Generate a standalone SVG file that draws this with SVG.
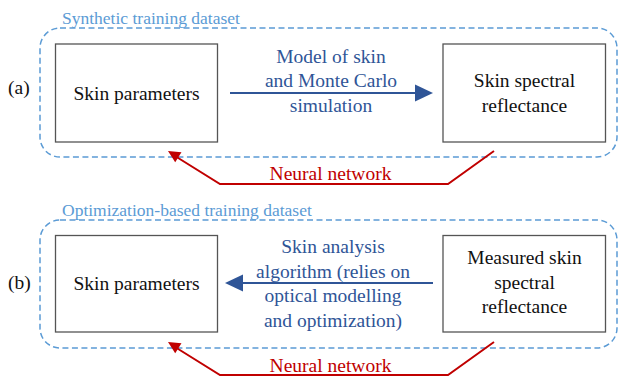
<svg xmlns="http://www.w3.org/2000/svg" width="619" height="376" viewBox="0 0 619 376" font-family="Liberation Serif, serif">
<defs>
<style>
.t{font-size:19.5px;fill:#111;text-anchor:middle}
.lbl{font-size:19.5px;fill:#111}
.ttl{font-size:17.5px;fill:#5b9bd5}
.bt{font-size:19.5px;fill:#2f5597;text-anchor:middle}
.rt{font-size:19.5px;fill:#c00000;text-anchor:middle}
.grp{fill:none;stroke:#5b9bd5;stroke-width:1.5;stroke-dasharray:6 3.5}
.box{fill:#fff;stroke:#555;stroke-width:1.3}
.blue{fill:none;stroke:#2f5597;stroke-width:2}
.red{fill:none;stroke:#c00000;stroke-width:2}
</style>
</defs>

<g id="group-a">
<rect class="grp" x="40" y="28" width="577" height="129" rx="20"/>
<text class="ttl" x="62" y="24">Synthetic training dataset</text>
<text class="lbl" x="8" y="94">(a)</text>
</g>
<g id="group-b">
<rect class="grp" x="40" y="220" width="577" height="128" rx="20"/>
<text class="ttl" x="62" y="216">Optimization-based training dataset</text>
<text class="lbl" x="8" y="289">(b)</text>
</g>

<g id="a-skin-params">
<rect class="box" x="55.5" y="44" width="162" height="98"/>
<text class="t" x="136.5" y="100">Skin parameters</text>
</g>
<g id="a-reflectance">
<rect class="box" x="443" y="44" width="162.5" height="98"/>
<text class="t" x="524.5" y="87">Skin spectral</text>
<text class="t" x="524.5" y="112">reflectance</text>
</g>
<g id="b-skin-params">
<rect class="box" x="55.5" y="235.5" width="162" height="96.5"/>
<text class="t" x="136.5" y="290">Skin parameters</text>
</g>
<g id="b-measured">
<rect class="box" x="443" y="235.5" width="162.5" height="96.5"/>
<text class="t" x="524.5" y="264">Measured skin</text>
<text class="t" x="524.5" y="288.5">spectral</text>
<text class="t" x="524.5" y="313">reflectance</text>
</g>

<g id="connectors">
<path d="M230,93 L417,93" class="blue"/>
<path d="M415,84.5 L433,93 L415,101.5 Z" fill="#2f5597"/>
<text class="bt" x="331" y="63">Model of skin</text>
<text class="bt" x="331" y="87">and Monte Carlo</text>
<text class="bt" x="331" y="112">simulation</text>

<path d="M494,151 L448,184 L220,184 L175,156" class="red"/>
<path d="M168,151 L181.5,152.2 L175.2,162.3 Z" fill="#c00000"/>
<text class="rt" x="330.5" y="180">Neural network</text>

<path d="M433,283 L241,283" class="blue"/>
<path d="M243,274.5 L225,283 L243,291.5 Z" fill="#2f5597"/>
<text class="bt" x="333" y="253">Skin analysis</text>
<text class="bt" x="333" y="277.5">algorithm (relies on</text>
<text class="bt" x="333" y="302">optical modelling</text>
<text class="bt" x="333" y="326.5">and optimization)</text>

<path d="M494,342 L448,375 L220,375 L175,347" class="red"/>
<path d="M168,342 L181.5,343.2 L175.2,353.3 Z" fill="#c00000"/>
<text class="rt" x="330.5" y="372">Neural network</text>
</g>
</svg>
